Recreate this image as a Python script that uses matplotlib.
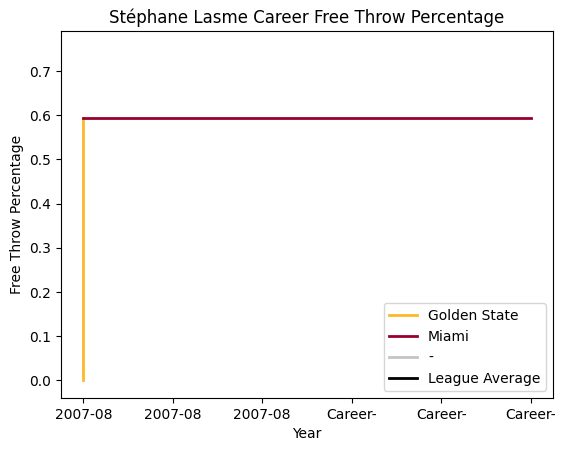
import matplotlib
matplotlib.use("Agg")
import matplotlib.pyplot as plt

tick_labels = ["2007-08", "2007-08", "2007-08", "Career-", "Career-", "Career-"]
gsw_x = [0, 0]
gsw_pct = [0.0, 0.593]
mia_x = [0, 1, 2, 3, 4, 5]
mia_pct = [0.593, 0.593, 0.593, 0.593, 0.593, 0.593]

fig = plt.figure(figsize=(5.7, 4.54), dpi=100)
ax = fig.add_axes([0.107, 0.123, 0.863, 0.808])

ax.plot(gsw_x, gsw_pct, color="#FDB927", lw=2, label="Golden State")
ax.plot(mia_x, mia_pct, color="#98002E", lw=2, label="Miami")
ax.plot([], [], color="#C4C4C4", lw=2, label="-")
ax.plot([], [], color="black", lw=2, label="League Average")

ax.set_xticks(range(len(tick_labels)))
ax.set_xticklabels(tick_labels)
ax.set_ylim(-0.04, 0.79)
ax.set_xlim(-0.25, 5.25)
ax.set_xlabel("Year")
ax.set_ylabel("Free Throw Percentage")
ax.set_title("Stéphane Lasme Career Free Throw Percentage")
ax.legend(loc="lower right")

fig.savefig("out.png", dpi=100)
